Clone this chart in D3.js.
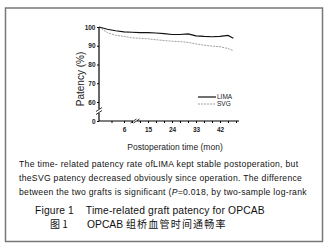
<!DOCTYPE html>
<html>
<head>
<meta charset="utf-8">
<script src="https://cdn.jsdelivr.net/npm/d3@7"></script>
<style>
  body { margin: 0; background: #fff; }
  svg text { font-family: "Liberation Sans", Arial, sans-serif; }
</style>
</head>
<body>
<div id="chart"></div>
<script>
// Data
const months = [0, 2, 4, 6, 9, 12, 15, 18, 21, 24, 27, 30, 33, 36, 39, 42, 45, 47];
const limaValues = [100, 98.8, 98, 97.4, 97.2, 97, 97, 96.8, 96.5, 96, 96, 96.3, 95.3, 95, 94.8, 95, 95.5, 94];
const svgValues = [100, 97, 95.6, 95, 94.2, 94, 93.7, 93.2, 92.8, 92.4, 92.2, 91.8, 91, 90.3, 89.8, 89.5, 88.5, 87.4];
const xTicks = [6, 15, 24, 33, 42];
const xMinorTicks = d3.range(3, 49, 3);
const yTicks = [0, 60, 70, 80, 90, 100];
const seriesNames = ["LIMA", "SVG"];
const captionLines = [
    "The time- related patency rate ofLIMA kept stable postoperation, but",
    "theSVG patency decreased obviously since operation. The difference",
    "between the two grafts is significant (P=0.018, by two-sample log-rank"
];

let width = 328, height = 249;

let svg = d3.select("#chart").append("svg")
    .attr("width", width)
    .attr("height", height);

// frame
svg.append("rect")
    .attr("x", 5.5).attr("y", 8)
    .attr("width", 317).attr("height", 233.5)
    .attr("fill", "none")
    .attr("stroke", "#777")
    .attr("stroke-width", 1.5);

// broken axes -> piecewise scales
let x = d3.scaleLinear().domain([0, 6, 48]).range([99, 124, 236]);
let y = d3.scaleLinear().domain([0, 60, 100]).range([121, 102, 27]);

// y axis
let yAxis = svg.append("g")
    .attr("transform", "translate(99,0)")
    .call(d3.axisLeft(y).tickValues(yTicks).tickSize(2).tickPadding(1.5));
yAxis.select(".domain").remove();
yAxis.selectAll("text").style("font-size", "6.5px").style("font-weight", "bold").attr("fill", "#222");

svg.append("line")
    .attr("x1", 99).attr("x2", 99)
    .attr("y1", y(100)).attr("y2", y(0))
    .attr("stroke", "#000").attr("stroke-width", 1.2);

// x axis
let xAxis = svg.append("g")
    .attr("transform", "translate(0,121)")
    .call(d3.axisBottom(x).tickValues(xMinorTicks).tickSize(2).tickFormat(""));
xAxis.select(".domain").remove();
let xLab = svg.append("g")
    .attr("transform", "translate(0,121)")
    .call(d3.axisBottom(x).tickValues(xTicks).tickSize(0).tickPadding(6));
xLab.select(".domain").remove();
xLab.selectAll("text").style("font-size", "6.5px").style("font-weight", "bold").attr("fill", "#222");

svg.append("line")
    .attr("x1", 99).attr("x2", 239)
    .attr("y1", 121).attr("y2", 121)
    .attr("stroke", "#000").attr("stroke-width", 1.2);

// axis break marks
let yb = 111;
svg.append("rect").attr("x", 96).attr("y", yb - 2).attr("width", 6).attr("height", 4).attr("fill", "#fff");
[-1.5, 1.5].forEach(o => {
    svg.append("line")
        .attr("x1", 96).attr("x2", 102)
        .attr("y1", yb + o + 2).attr("y2", yb + o - 2)
        .attr("stroke", "#000").attr("stroke-width", 0.8);
});
let xb = 135;
svg.append("rect").attr("x", xb - 2).attr("y", 118).attr("width", 4).attr("height", 6).attr("fill", "#fff");
[-1.5, 1.5].forEach(o => {
    svg.append("line")
        .attr("x1", xb + o - 3).attr("x2", xb + o + 3)
        .attr("y1", 123).attr("y2", 119)
        .attr("stroke", "#000").attr("stroke-width", 0.8);
});

// lines
let line = d3.line()
    .x((d, i) => x(months[i]))
    .y(d => y(d));

svg.append("path")
    .datum(svgValues)
    .attr("d", line)
    .attr("fill", "none")
    .attr("stroke", "#888")
    .attr("stroke-width", 0.8)
    .attr("stroke-dasharray", "2,1");

svg.append("path")
    .datum(limaValues)
    .attr("d", line)
    .attr("fill", "none")
    .attr("stroke", "#111")
    .attr("stroke-width", 1.2);

// legend
let legend = svg.append("g");
seriesNames.forEach((name, i) => {
    let ly = 97 + i * 7;
    legend.append("line")
        .attr("x1", 198).attr("x2", 216)
        .attr("y1", ly).attr("y2", ly)
        .attr("stroke", i === 0 ? "#111" : "#888")
        .attr("stroke-width", i === 0 ? 1.2 : 0.8)
        .attr("stroke-dasharray", i === 0 ? null : "2,1");
    legend.append("text")
        .attr("x", 217).attr("y", ly + 2.3)
        .style("font-size", "6.5px")
        .attr("fill", "#222")
        .text(name);
});

// axis titles
svg.append("text")
    .attr("transform", "translate(84,79) rotate(-90)")
    .attr("text-anchor", "middle")
    .style("font-size", "10px")
    .attr("fill", "#222")
    .text("Patency (%)");

svg.append("text")
    .attr("x", 175).attr("y", 150)
    .attr("text-anchor", "middle")
    .style("font-size", "8.5px")
    .attr("fill", "#222")
    .text("Postoperation time (mon)");

// caption
captionLines.forEach((t, i) => {
    let tx = svg.append("text")
        .attr("x", 19).attr("y", 167 + i * 14)
        .style("font-size", "8.6px")
        .style("letter-spacing", "0.3px")
        .attr("fill", "#111");
    if (t.includes("P=")) {
        let parts = t.split("P=");
        tx.append("tspan").text(parts[0]);
        tx.append("tspan").style("font-style", "italic").text("P");
        tx.append("tspan").text("=" + parts[1]);
    } else {
        tx.text(t);
    }
});

svg.append("text")
    .attr("x", 35).attr("y", 214)
    .style("font-size", "10.3px")
    .style("letter-spacing", "0.15px")
    .attr("fill", "#111")
    .attr("xml:space", "preserve")
    .text("Figure 1    Time-related graft patency for OPCAB");

let cn = svg.append("text")
    .attr("x", 50).attr("y", 227.5)
    .style("font-size", "10px")
    .attr("fill", "#111");
cn.append("tspan").style("font-family", "'Noto Sans CJK SC', sans-serif").text("图 1");
cn.append("tspan").attr("x", 87).style("font-size", "10.3px").text("OPCAB ");
cn.append("tspan")
    .style("font-family", "'Noto Sans CJK SC', sans-serif")
    .style("letter-spacing", "1.2px")
    .text("组桥血管时间通畅率");
</script>
</body>
</html>
